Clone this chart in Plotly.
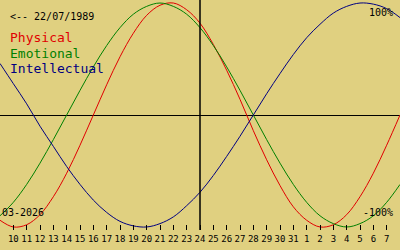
import plotly.graph_objects as go

# Days shown (day-of-March numbering, 32+ = April)
days = list(range(9, 40))
day_labels = [str(d) for d in range(10, 32)] + [str(d) for d in range(1, 8)]
tick_days = list(range(10, 39))
today = 24

physical = [-94, -100, -98, -89, -73, -52, -27, 0, 27, 52, 73, 89, 98, 100, 94, 82,
            63, 40, 14, -14, -40, -63, -82, -94, -100, -98, -89, -73, -52, -27, 0]
emotional = [-90, -78, -62, -43, -22, 0, 22, 43, 62, 78, 90, 97, 100, 97, 90, 78,
             62, 43, 22, 0, -22, -43, -62, -78, -90, -97, -100, -97, -90, -78, -62]
intellectual = [46, 28, 10, -10, -28, -46, -62, -76, -87, -95, -99, -100, -97, -91, -81, -69,
                -54, -37, -19, 0, 19, 37, 54, 69, 81, 91, 97, 100, 99, 95, 87]

series = [("Physical", physical, "#e00000"),
          ("Emotional", emotional, "#008000"),
          ("Intellectual", intellectual, "#000080")]

BG = "#e0d080"
MONO = "DejaVu Sans Mono"
PLOT_H = 230

fig = go.Figure()
for name, vals, col in series:
    fig.add_trace(go.Scatter(x=days, y=vals, mode="lines", name=name,
                             line=dict(color=col, width=1, shape="spline"),
                             hoverinfo="skip"))

fig.add_shape(type="line", x0=today, x1=today, y0=0, y1=1, yref="paper",
              line=dict(color="black", width=1.5))

fig.update_layout(
    width=400, height=250, margin=dict(l=0, r=0, t=0, b=250 - PLOT_H),
    paper_bgcolor=BG, plot_bgcolor=BG, showlegend=False,
    xaxis=dict(range=[9, 39], tickvals=tick_days, ticktext=day_labels,
               ticks="inside", ticklen=5, tickcolor="black", tickwidth=1,
               showgrid=False, zeroline=False, showline=False,
               ticklabelstandoff=2,
               tickfont=dict(family=MONO, size=9, color="black")),
    yaxis=dict(range=[-102.7, 102.7], showgrid=False, showticklabels=False,
               zeroline=True, zerolinecolor="black", zerolinewidth=1),
)

annots = [
    ("<-- 22/07/1989", 8, 16, 10, "black", "left"),
    ("Physical", 8, 38, 13, "#e00000", "left"),
    ("Emotional", 8, 53, 13, "#008000", "left"),
    ("Intellectual", 8, 68, 13, "#000080", "left"),
    ("100%", 395, 12, 10, "black", "right"),
    ("-100%", 395, 212, 10, "black", "right"),
    ("03-2026", 0, 212, 10, "black", "left"),
]
for txt, px, py, sz, col, anc in annots:
    fig.add_annotation(text=txt, x=px / 400, y=1 - py / PLOT_H, xref="paper", yref="paper",
                       showarrow=False, xanchor=anc, yanchor="middle",
                       font=dict(family=MONO, size=sz, color=col))

fig.write_html("out.html")
